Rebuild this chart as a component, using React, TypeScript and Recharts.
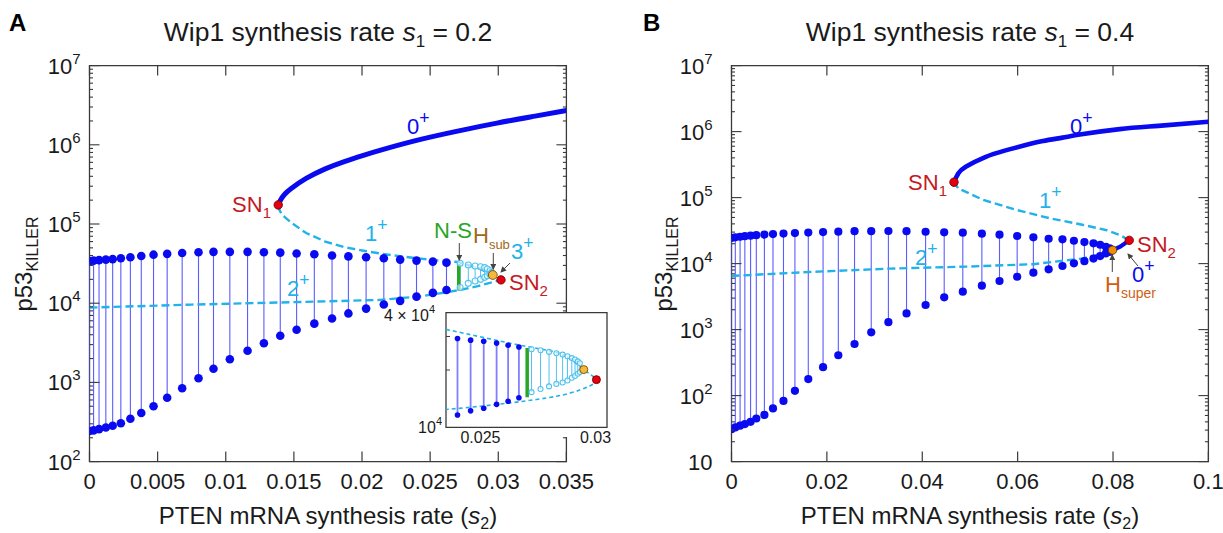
import React from 'react';
import { ComposedChart, Line, Scatter, XAxis, YAxis, ReferenceArea } from 'recharts';

const FONT = '"Liberation Sans", Arial, Helvetica, sans-serif';
const INK = '#1a1a1a';
const FRAME = '#3a3a3a';
const BLUE = '#0a0af0';
const CYAN = '#22b2ea';
const ORBIT = '#5c5cff';
const ORBIT_U = '#4fc2ee';
const RED = '#e4000f';
const RED_TXT = '#c41a24';
const GREEN = '#27a627';
const BROWN = '#a06a1a';
const ORANGE_TXT = '#cf5f14';

/* ---------- panel A : s1 = 0.2 ---------- */
const aXTicks = [0, 0.005, 0.01, 0.015, 0.02, 0.025, 0.03, 0.035];
const aDecades = [2, 3, 4, 5, 6, 7];

// stable high branch 0+
const aTopS = [0.01385, 0.01407, 0.01436, 0.01478, 0.0159, 0.0173, 0.0187, 0.0201, 0.0215, 0.0243, 0.0271, 0.0299, 0.0327, 0.035];
const aTopV = [1.74e5, 2.08e5, 2.41e5, 2.79e5, 3.76e5, 4.97e5, 6.15e5, 7.37e5, 8.7e5, 1.17e6, 1.5e6, 1.88e6, 2.3e6, 2.71e6];

// unstable steady states (2+ lower, 3+ / 1+ middle)
const aDashS = [0, 0.0075, 0.0159, 0.0213, 0.0243, 0.0257, 0.0271, 0.0285, 0.0296, 0.0302, 0.0296, 0.0285, 0.0271, 0.0257, 0.0243, 0.0229, 0.0215, 0.0201, 0.0187, 0.0173, 0.0159, 0.0148, 0.01415, 0.01394, 0.01385];
const aDashV = [8.8e3, 9.6e3, 1.04e4, 1.1e4, 1.22e4, 1.33e4, 1.46e4, 1.64e4, 1.85e4, 1.97e4, 2.27e4, 2.8e4, 3.3e4, 3.45e4, 3.65e4, 3.9e4, 4.2e4, 4.6e4, 5.1e4, 6.0e4, 7.7e4, 1.04e5, 1.3e5, 1.5e5, 1.74e5];

// stable oscillations (max / min)
const aOrbS = [0, 0.0003, 0.0007, 0.0012, 0.0017, 0.0023, 0.003, 0.0038, 0.0047, 0.0057, 0.0068, 0.008, 0.0091, 0.0103, 0.0116, 0.0128, 0.014, 0.0152, 0.0165, 0.0178, 0.019, 0.0203, 0.0216, 0.0228, 0.024, 0.0252, 0.0262];
const aOrbMax = [3.4e4, 3.45e4, 3.5e4, 3.55e4, 3.6e4, 3.7e4, 3.8e4, 3.95e4, 4.1e4, 4.2e4, 4.3e4, 4.4e4, 4.45e4, 4.45e4, 4.45e4, 4.4e4, 4.35e4, 4.25e4, 4.15e4, 4.0e4, 3.9e4, 3.8e4, 3.7e4, 3.55e4, 3.45e4, 3.35e4, 3.25e4];
const aOrbMin = [243, 248, 257, 270, 283, 305, 347, 411, 500, 641, 845, 1127, 1486, 1960, 2510, 3120, 3875, 4630, 5520, 6410, 7430, 8550, 9610, 10700, 12100, 13500, 14700];

// unstable oscillations
const aUnsS = [0.0272, 0.0278, 0.0283, 0.0287, 0.029, 0.0292, 0.0294, 0.0295];
const aUnsMax = [3.19e4, 3.04e4, 2.95e4, 2.89e4, 2.81e4, 2.7e4, 2.57e4, 2.43e4];
const aUnsMin = [1.58e4, 1.78e4, 1.91e4, 2.0e4, 2.12e4, 2.22e4, 2.32e4, 2.38e4];

const aNsS = 0.0271;
const aNsV = [1.45e4, 3.1e4];
const aSnS = [0.01385, 0.0302];
const aSnV = [1.74e5, 1.97e4];
const aHsub = { s: 0.0296, v: 2.27e4 };

/* ---------- inset of panel A ---------- */
const iXTicks = [0.025, 0.03];
const iYTicks = [1e4, 2e4, 3e4, 4e4];
const iOrbS = [0.024, 0.02457, 0.02514, 0.0257, 0.0262, 0.02667];
const iOrbMax = [2.93e4, 2.87e4, 2.83e4, 2.77e4, 2.7e4, 2.64e4];
const iOrbMin = [1.16e4, 1.22e4, 1.26e4, 1.32e4, 1.37e4, 1.43e4];
const iUnsS = [0.02722, 0.02761, 0.02798, 0.0283, 0.02857, 0.02878, 0.02897, 0.02911, 0.02923, 0.02932];
const iUnsMax = [2.57e4, 2.54e4, 2.49e4, 2.45e4, 2.41e4, 2.36e4, 2.31e4, 2.27e4, 2.22e4, 2.17e4];
const iUnsMin = [1.53e4, 1.59e4, 1.64e4, 1.69e4, 1.72e4, 1.76e4, 1.82e4, 1.86e4, 1.91e4, 1.95e4];
const iDashS = [0.0235, 0.02526, 0.02714, 0.02859, 0.02949, 0.03004, 0.02975, 0.02888, 0.02743, 0.02526, 0.0235];
const iDashV = [3.27e4, 2.94e4, 2.64e4, 2.4e4, 2.01e4, 1.78e4, 1.65e4, 1.51e4, 1.4e4, 1.3e4, 1.24e4];
const iNsS = 0.02703;
const iNsV = [1.44e4, 2.61e4];
const iHsub = { s: 0.02949, v: 2.01e4 };
const iSn2 = { s: 0.03004, v: 1.78e4 };

/* ---------- panel B : s1 = 0.4 ---------- */
const bXTicks = [0, 0.02, 0.04, 0.06, 0.08, 0.1];
const bDecades = [1, 2, 3, 4, 5, 6, 7];

const bTopS = [0.04665, 0.04758, 0.0492, 0.0532, 0.0573, 0.0613, 0.0653, 0.0694, 0.0734, 0.0814, 0.0895, 0.1];
const bTopV = [1.71e5, 2.33e5, 2.95e5, 4.12e5, 5.15e5, 6.15e5, 7.2e5, 8.1e5, 9.1e5, 1.09e6, 1.22e6, 1.41e6];
const bLowS = [0, 0.0169, 0.0331, 0.0493, 0.0633, 0.0738, 0.078, 0.0799];
const bLowV = [6.5e3, 7.5e3, 8.4e3, 9.0e3, 9.8e3, 1.2e4, 1.43e4, 1.6e4];
const bStubS = [0.0799, 0.0815, 0.0834];
const bStubV = [1.6e4, 1.8e4, 2.25e4];
const bMidS = [0.0834, 0.0815, 0.0787, 0.0738, 0.0668, 0.0598, 0.0528, 0.04756, 0.04665];
const bMidV = [2.25e4, 2.7e4, 3.2e4, 3.85e4, 4.85e4, 6.5e4, 9.2e4, 1.38e5, 1.71e5];

const bOrbS = [0, 0.0008, 0.0018, 0.0028, 0.004, 0.0052, 0.0069, 0.0087, 0.0109, 0.0133, 0.0161, 0.0192, 0.0224, 0.0258, 0.0293, 0.0329, 0.0367, 0.0407, 0.0446, 0.0485, 0.0525, 0.0562, 0.0599, 0.0633, 0.0665, 0.0694, 0.0718, 0.074, 0.0759, 0.0773, 0.0785, 0.0793];
const bOrbMax = [2.45e4, 2.5e4, 2.55e4, 2.6e4, 2.65e4, 2.7e4, 2.75e4, 2.8e4, 2.85e4, 2.9e4, 2.95e4, 3.0e4, 3.05e4, 3.1e4, 3.1e4, 3.12e4, 3.1e4, 3.04e4, 2.98e4, 2.94e4, 2.84e4, 2.74e4, 2.62e4, 2.5e4, 2.38e4, 2.33e4, 2.22e4, 2.12e4, 2.03e4, 1.93e4, 1.8e4, 1.7e4];
const bOrbMin = [31, 33, 35, 37, 40, 45, 51, 64, 83, 118, 178, 270, 409, 605, 908, 1295, 1760, 2360, 3085, 3750, 4625, 5450, 6325, 7280, 8200, 9200, 1.01e4, 1.09e4, 1.19e4, 1.3e4, 1.43e4, 1.5e4];

const bSnS = [0.04665, 0.0834];
const bSnV = [1.71e5, 2.25e4];
const bHsuper = { s: 0.0799, v: 1.6e4 };

/* ---------- helpers ---------- */
const minorMult = [1, 2, 3, 4, 5, 6, 7, 8, 9];
const logTicks = (dec: number[]) =>
  dec.flatMap((d, i) => (i === dec.length - 1 ? [Math.pow(10, d)] : minorMult.map((m) => m * Math.pow(10, d))));
const pts = (s: number[], v: number[]) => s.map((x, i) => ({ s: x, v: v[i] }));
const segs = (s: number[], lo: number[], hi: number[]) => s.map((x, i) => [{ s: x, v: lo[i] }, { s: x, v: hi[i] }]);

function XTick({ x, y, payload, plotH, len = 10, fs = 22, dy = 27, top = true }: any) {
  return (
    <g>
      {len > 0 && <line x1={x} y1={y} x2={x} y2={y - len} stroke={FRAME} strokeWidth={1.2} />}
      {top && <line x1={x} y1={y - plotH} x2={x} y2={y - plotH + len} stroke={FRAME} strokeWidth={1.2} />}
      <text x={x} y={y + dy} textAnchor="middle" fontSize={fs} fontFamily={FONT} fill={INK}>{String(payload.value)}</text>
    </g>
  );
}

function YTick({ x, y, payload, plotW, gap = 9 }: any) {
  const v = payload.value;
  const e = Math.round(Math.log10(v));
  const isMajor = Math.abs(Math.log10(v) - e) < 1e-6;
  const len = isMajor ? 10 : 3.5;
  return (
    <g>
      <line x1={x} y1={y} x2={x + len} y2={y} stroke={FRAME} strokeWidth={1.1} />
      <line x1={x + plotW} y1={y} x2={x + plotW - len} y2={y} stroke={FRAME} strokeWidth={1.1} />
      {isMajor && (
        <text x={x - gap} y={y + 8} textAnchor="end" fontSize={22} fontFamily={FONT} fill={INK}>
          10{e !== 1 && <tspan dy={-10} fontSize={15}>{e}</tspan>}
        </text>
      )}
    </g>
  );
}

function InsetYTick({ x, y, payload }: any) {
  const v = payload.value;
  const len = 4;
  let label: any = null;
  if (v === 1e4) label = <text x={x - 4} y={y + 6} textAnchor="end" fontSize={16} fontFamily={FONT} fill={INK}>10<tspan dy={-8} fontSize={11}>4</tspan></text>;
  if (v === 4e4) label = <text x={x - 11} y={y + 8} textAnchor="end" fontSize={16} fontFamily={FONT} fill={INK}>4 × 10<tspan dy={-8} fontSize={11}>4</tspan></text>;
  return (
    <g>
      {v !== 1e4 && v !== 4e4 && <line x1={x} y1={y} x2={x + len} y2={y} stroke={FRAME} strokeWidth={1} />}
      {label}
    </g>
  );
}

const filledDot = (r: number, fill: string) => (p: any) => <circle cx={p.cx} cy={p.cy} r={r} fill={fill} />;
const openDot = (r: number) => (p: any) => <circle cx={p.cx} cy={p.cy} r={r} fill="#fff" fillOpacity={0.6} stroke={ORBIT_U} strokeWidth={1.1} />;
const marker = (r: number, fill: string, stroke: string) => (p: any) => (
  <circle cx={p.cx} cy={p.cy} r={r} fill={fill} stroke={stroke} strokeWidth={0.9} />
);

function axes(xDomain: number[], xTicks: number[], yDomain: number[], yTicks: number[], plotW: number, plotH: number, gap: number) {
  return [
    <XAxis key="x" type="number" dataKey="s" domain={xDomain} ticks={xTicks} interval={0} allowDataOverflow height={40}
      axisLine={false} tickLine={false} tickSize={0} tickMargin={0} tick={<XTick plotH={plotH} />} />,
    <YAxis key="y" type="number" dataKey="v" scale="log" domain={yDomain} ticks={yTicks} interval={0} allowDataOverflow width={80}
      axisLine={false} tickLine={false} tickSize={0} tickMargin={0} tick={<YTick plotW={plotW} gap={gap} />} />,
    <ReferenceArea key="f" x1={xDomain[0]} x2={xDomain[1]} y1={yDomain[0]} y2={yDomain[1]} fill="none" stroke={FRAME} strokeWidth={1.3} ifOverflow="visible" />,
  ];
}

const lineProps = { dot: false, activeDot: false, isAnimationActive: false, type: 'linear' as const, dataKey: 'v' };

function PanelA() {
  return (
    <ComposedChart width={620} height={533} margin={{ top: 65.6, left: 9.5, right: 53.6, bottom: 31.4 }}>
      {axes([0, 0.035], aXTicks, [100, 1e7], logTicks(aDecades), 476.9, 396, 9)}
      {segs(aOrbS, aOrbMin, aOrbMax).map((d, i) => (
        <Line key={'o' + i} {...lineProps} data={d} stroke={ORBIT} strokeWidth={1.1} />
      ))}
      {segs(aUnsS, aUnsMin, aUnsMax).map((d, i) => (
        <Line key={'u' + i} {...lineProps} data={d} stroke={ORBIT_U} strokeWidth={1} />
      ))}
      <Line {...lineProps} data={pts(aDashS, aDashV)} stroke={CYAN} strokeWidth={2.4} strokeDasharray="8 4" />
      <Line {...lineProps} type="natural" data={pts(aTopS, aTopV)} stroke={BLUE} strokeWidth={5} />
      <Line {...lineProps} data={[{ s: aNsS, v: aNsV[0] }, { s: aNsS, v: aNsV[1] }]} stroke={GREEN} strokeWidth={3.5} />
      <Scatter data={pts(aOrbS, aOrbMax)} shape={filledDot(4.3, BLUE)} isAnimationActive={false} />
      <Scatter data={pts(aOrbS, aOrbMin)} shape={filledDot(4.3, BLUE)} isAnimationActive={false} />
      <Scatter data={pts(aUnsS, aUnsMax)} shape={openDot(3)} isAnimationActive={false} />
      <Scatter data={pts(aUnsS, aUnsMin)} shape={openDot(3)} isAnimationActive={false} />
      <Scatter data={[aHsub]} shape={marker(4.4, '#f5b83d', '#7a5000')} isAnimationActive={false} />
      <Scatter data={pts(aSnS, aSnV)} shape={marker(4.2, RED, '#7a0000')} isAnimationActive={false} />
    </ComposedChart>
  );
}

function Inset() {
  return (
    <ComposedChart width={260} height={180} margin={{ top: 22.7, left: 46, right: 13, bottom: 12.7 }}>
      <XAxis type="number" dataKey="s" domain={[0.0235, 0.0305]} ticks={iXTicks} interval={0} allowDataOverflow height={30}
        axisLine={false} tickLine={false} tickSize={0} tickMargin={0} tick={<XTick plotH={124.6} len={0} fs={16} dy={16} top={false} />} />
      <YAxis type="number" dataKey="v" scale="log" domain={[1e4, 4e4]} ticks={iYTicks} interval={0} allowDataOverflow width={40}
        axisLine={false} tickLine={false} tickSize={0} tickMargin={0} tick={<InsetYTick />} />
      <ReferenceArea x1={0.0235} x2={0.0305} y1={1e4} y2={4e4} fill="none" stroke={FRAME} strokeWidth={1.3} ifOverflow="visible" />
      {segs(iOrbS, iOrbMin, iOrbMax).map((d, i) => (
        <Line key={'o' + i} {...lineProps} data={d} stroke="#8080ff" strokeWidth={1.8} />
      ))}
      {segs(iUnsS, iUnsMin, iUnsMax).map((d, i) => (
        <Line key={'u' + i} {...lineProps} data={d} stroke={ORBIT_U} strokeWidth={1} />
      ))}
      <Line {...lineProps} type="natural" data={pts(iDashS, iDashV)} stroke={CYAN} strokeWidth={1.6} strokeDasharray="4 3" />
      <Line {...lineProps} data={[{ s: iNsS, v: iNsV[0] }, { s: iNsS, v: iNsV[1] }]} stroke={GREEN} strokeWidth={3.5} />
      <Scatter data={pts(iOrbS, iOrbMax)} shape={filledDot(2.8, BLUE)} isAnimationActive={false} />
      <Scatter data={pts(iOrbS, iOrbMin)} shape={filledDot(2.8, BLUE)} isAnimationActive={false} />
      <Scatter data={pts(iUnsS, iUnsMax)} shape={openDot(2.5)} isAnimationActive={false} />
      <Scatter data={pts(iUnsS, iUnsMin)} shape={openDot(2.5)} isAnimationActive={false} />
      <Scatter data={[iHsub]} shape={marker(4, '#f5b83d', '#7a5000')} isAnimationActive={false} />
      <Scatter data={[iSn2]} shape={marker(4, RED, '#7a0000')} isAnimationActive={false} />
    </ComposedChart>
  );
}

function PanelB() {
  return (
    <ComposedChart width={603} height={533} margin={{ top: 65.6, left: 31.5, right: 14.6, bottom: 31.4 }}>
      {axes([0, 0.1], bXTicks, [10, 1e7], logTicks(bDecades), 476.9, 396, 19)}
      {segs(bOrbS, bOrbMin, bOrbMax).map((d, i) => (
        <Line key={'o' + i} {...lineProps} data={d} stroke={ORBIT} strokeWidth={1.1} />
      ))}
      <Line {...lineProps} data={pts(bLowS, bLowV)} stroke={CYAN} strokeWidth={2.4} strokeDasharray="8 4" />
      <Line {...lineProps} data={pts(bMidS, bMidV)} stroke={CYAN} strokeWidth={2.4} strokeDasharray="8 4" />
      <Line {...lineProps} type="natural" data={pts(bTopS, bTopV)} stroke={BLUE} strokeWidth={4.6} />
      <Line {...lineProps} data={pts(bStubS, bStubV)} stroke={BLUE} strokeWidth={4.2} />
      <Scatter data={pts(bOrbS, bOrbMax)} shape={filledDot(4.1, BLUE)} isAnimationActive={false} />
      <Scatter data={pts(bOrbS, bOrbMin)} shape={filledDot(4.1, BLUE)} isAnimationActive={false} />
      <Scatter data={[bHsuper]} shape={marker(4.2, '#f28c00', '#6a3a00')} isAnimationActive={false} />
      <Scatter data={pts(bSnS, bSnV)} shape={marker(4.2, RED, '#7a0000')} isAnimationActive={false} />
    </ComposedChart>
  );
}

function Sup({ x, y, base, sup, color, fs = 22, anchor = 'start' }: any) {
  return (
    <text x={x} y={y} fill={color} fontSize={fs} fontFamily={FONT} textAnchor={anchor}>
      {base}<tspan dy={-fs * 0.45} fontSize={fs * 0.8}>{sup}</tspan>
    </text>
  );
}

function Sub({ x, y, base, sub, color, fs = 22, anchor = 'start', subFs = 15 }: any) {
  return (
    <text x={x} y={y} fill={color} fontSize={fs} fontFamily={FONT} textAnchor={anchor}>
      {base}<tspan dy={fs * 0.28} fontSize={subFs}>{sub}</tspan>
    </text>
  );
}

function Title({ x, val }: any) {
  return (
    <text x={x} y={41} textAnchor="middle" fontSize={26.5} fontFamily={FONT} fill={INK}>
      Wip1 synthesis rate <tspan fontStyle="italic">s</tspan><tspan dy={6} fontSize={17}>1</tspan><tspan dy={-6}> = {val}</tspan>
    </text>
  );
}

function XTitle({ x }: any) {
  return (
    <text x={x} y={524} textAnchor="middle" fontSize={24} fontFamily={FONT} fill={INK}>
      PTEN mRNA synthesis rate (<tspan fontStyle="italic">s</tspan><tspan dy={5} fontSize={16}>2</tspan><tspan dy={-5}>)</tspan>
    </text>
  );
}

function YTitle({ x }: any) {
  return (
    <text x={x} y={264} transform={`rotate(-90 ${x} 264)`} textAnchor="middle" fontSize={24} fontFamily={FONT} fill={INK}>
      p53<tspan dy={6} fontSize={16}>KILLER</tspan>
    </text>
  );
}

function Overlay() {
  return (
    <svg width={1223} height={533} style={{ position: 'absolute', left: 0, top: 0, pointerEvents: 'none' }}>
      <defs>
        <marker id="ah" markerWidth="6" markerHeight="6" refX="5" refY="3" orient="auto">
          <path d="M0,0 L6,3 L0,6 z" fill="#444" />
        </marker>
      </defs>
      {/* panel A */}
      <text x={9} y={31} fontSize={24} fontWeight="bold" fontFamily={FONT} fill="#000">A</text>
      <Title x={328} val="0.2" />
      <XTitle x={328} />
      <YTitle x={32} />
      <Sup x={407} y={134} base="0" sup="+" color={BLUE} />
      <Sub x={271} y={212} base="SN" sub="1" color={RED_TXT} anchor="end" />
      <Sup x={365} y={241} base="1" sup="+" color={CYAN} />
      <Sup x={287} y={296} base="2" sup="+" color={CYAN} />
      <text x={434} y={238} fontSize={22} fontFamily={FONT} fill={GREEN}>N-S</text>
      <Sub x={473} y={243} base="H" sub="sub" color={BROWN} subFs={13} />
      <Sup x={511} y={259} base="3" sup="+" color={CYAN} />
      <Sub x={509} y={290} base="SN" sub="2" color={RED_TXT} />
      <line x1={459.3} y1={243} x2={459.3} y2={260} stroke="#444" strokeWidth={1} markerEnd="url(#ah)" />
      <line x1={493.3} y1={253} x2={493.3} y2={269} stroke="#444" strokeWidth={1} markerEnd="url(#ah)" />
      <line x1={510} y1={263} x2={501} y2={272} stroke="#444" strokeWidth={1} markerEnd="url(#ah)" />
      {/* panel B */}
      <text x={643} y={31} fontSize={24} fontWeight="bold" fontFamily={FONT} fill="#000">B</text>
      <Title x={970} val="0.4" />
      <XTitle x={970} />
      <YTitle x={672} />
      <Sup x={1070} y={134} base="0" sup="+" color={BLUE} />
      <Sub x={947} y={190} base="SN" sub="1" color={RED_TXT} anchor="end" />
      <Sup x={1039} y={208} base="1" sup="+" color={CYAN} />
      <Sup x={915} y={265} base="2" sup="+" color={CYAN} />
      <Sub x={1137} y={252} base="SN" sub="2" color={RED_TXT} />
      <Sup x={1132} y={282} base="0" sup="+" color={BLUE} />
      <Sub x={1105} y={292} base="H" sub="super" color={ORANGE_TXT} subFs={14} />
      <line x1={1112.3} y1={272} x2={1112.3} y2={255} stroke="#444" strokeWidth={1} markerEnd="url(#ah)" />
      <line x1={1138} y1={266} x2={1128} y2={254} stroke="#444" strokeWidth={1} markerEnd="url(#ah)" />
    </svg>
  );
}

export default function App() {
  return (
    <div style={{ position: 'absolute', left: 0, top: 0, width: 1223, height: 533, background: '#fff', overflow: 'hidden' }}>
      <div style={{ position: 'absolute', left: 0, top: 0 }}><PanelA /></div>
      <div style={{ position: 'absolute', left: 446, top: 312.7, width: 161, height: 124.6, background: '#fff' }} />
      <div style={{ position: 'absolute', left: 360, top: 290 }}><Inset /></div>
      <div style={{ position: 'absolute', left: 620, top: 0 }}><PanelB /></div>
      <Overlay />
    </div>
  );
}
